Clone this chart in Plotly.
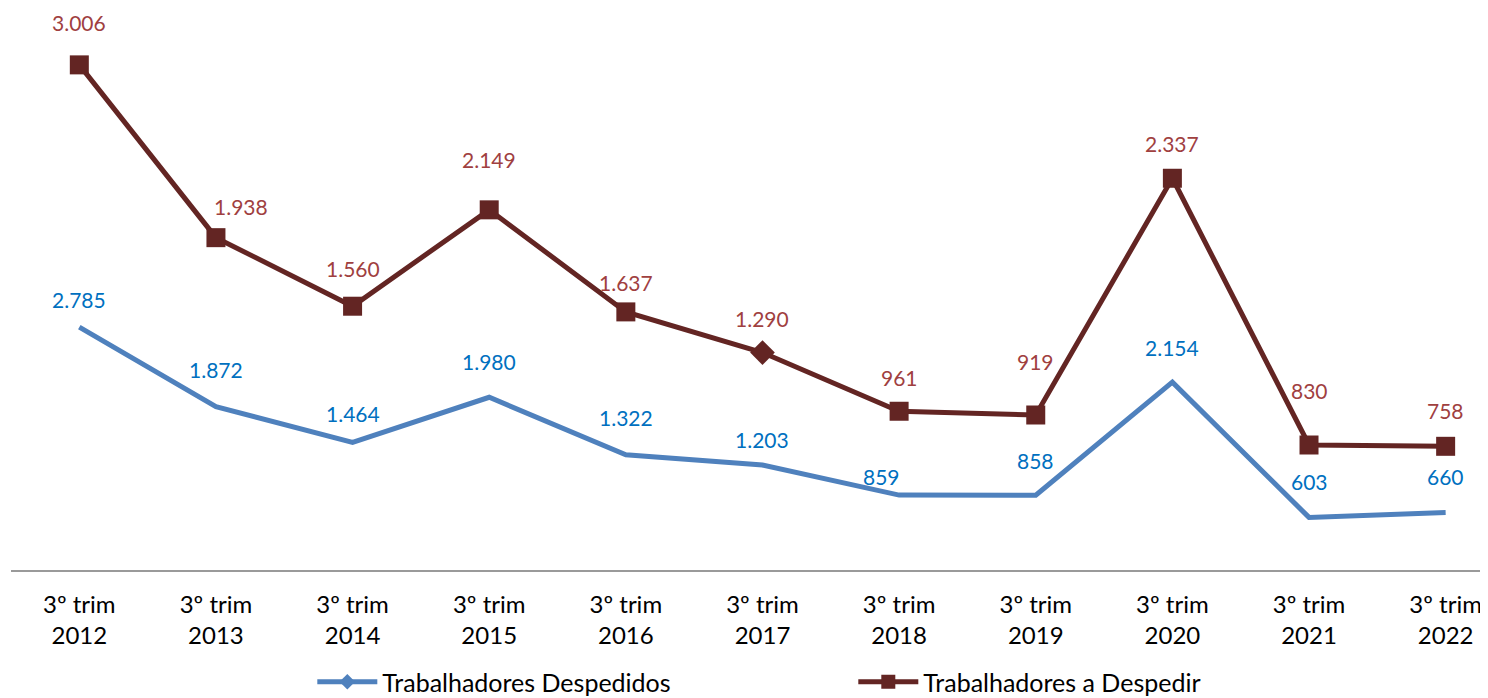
import plotly.graph_objects as go

categories = ["3º trim<br>2012", "3º trim<br>2013", "3º trim<br>2014", "3º trim<br>2015",
              "3º trim<br>2016", "3º trim<br>2017", "3º trim<br>2018", "3º trim<br>2019",
              "3º trim<br>2020", "3º trim<br>2021", "3º trim<br>2022"]
despedidos = [2785, 1872, 1464, 1980, 1322, 1203, 859, 858, 2154, 603, 660]
a_despedir = [3006, 1938, 1560, 2149, 1637, 1290, 961, 919, 2337, 830, 758]

# label placement (style only, pixels)
blue_dy = [28, 37, 29, 36, 37, 26, 19, 35, 35, 36, 36]
blue_dx = [0, 0, 0, 0, 0, 0, -18, 0, 0, 0, 0]
red_dy = [42, 31, 38, 50, 29, 34, 34, 54, 35, 55, 36]
red_dx = [0, 25, 0, 0, 0, 0, 0, 0, 0, 0, 0]

BLUE_LINE = "#4F81BD"
BLUE_TXT = "#0070C0"
RED_LINE = "#632523"
RED_TXT = "#A0403F"
FONT = "Lato"


def fmt(v):
    return f"{v:,}".replace(",", ".")


red_symbols = ["square"] * len(a_despedir)
red_symbols[5] = "diamond"

fig = go.Figure()
fig.add_trace(go.Scatter(
    x=categories, y=despedidos, mode="lines", stackgroup="s", fill="none",
    line=dict(color=BLUE_LINE, width=5), showlegend=False, hoverinfo="y",
))
fig.add_trace(go.Scatter(
    x=categories, y=a_despedir, mode="lines+markers", stackgroup="s", fill="none",
    line=dict(color=RED_LINE, width=5),
    marker=dict(color=RED_LINE, size=19, symbol=red_symbols),
    showlegend=False, hoverinfo="y",
))
# legend entries
fig.add_trace(go.Scatter(
    x=[None], y=[None], mode="lines+markers", name="Trabalhadores Despedidos",
    line=dict(color=BLUE_LINE, width=5),
    marker=dict(color=BLUE_LINE, size=12, symbol="diamond"),
))
fig.add_trace(go.Scatter(
    x=[None], y=[None], mode="lines+markers", name="Trabalhadores a Despedir",
    line=dict(color=RED_LINE, width=5),
    marker=dict(color=RED_LINE, size=14, symbol="square"),
))

annotations = []
for i, (c, b, r) in enumerate(zip(categories, despedidos, a_despedir)):
    annotations.append(dict(x=c, y=b, text=fmt(b), showarrow=False,
                            yshift=blue_dy[i], xshift=blue_dx[i],
                            font=dict(color=BLUE_TXT, size=21, family=FONT)))
    annotations.append(dict(x=c, y=b + r, text=fmt(r), showarrow=False,
                            yshift=red_dy[i], xshift=red_dx[i],
                            font=dict(color=RED_TXT, size=21, family=FONT)))

fig.update_layout(
    width=1488, height=690,
    margin=dict(l=3, r=8, t=2, b=128),
    paper_bgcolor="white", plot_bgcolor="white",
    font=dict(family=FONT, size=20, color="#000000"),
    xaxis=dict(type="category", range=[-0.5, 10.31], showgrid=False, automargin=False,
               showline=True, linecolor="#9A9A9A", linewidth=2, ticks="",
               ticklabelstandoff=12,
               tickfont=dict(size=24, family=FONT, color="#000000")),
    yaxis=dict(range=[0, 6420], visible=False, showgrid=False, automargin=False),
    showlegend=True,
    legend=dict(orientation="h", x=0.204, xanchor="left",
                yref="container", y=16 / 690, yanchor="middle",
                entrywidth=466, itemwidth=60, font=dict(size=25, family=FONT)),
    annotations=annotations,
)

fig.write_html("out.html")
